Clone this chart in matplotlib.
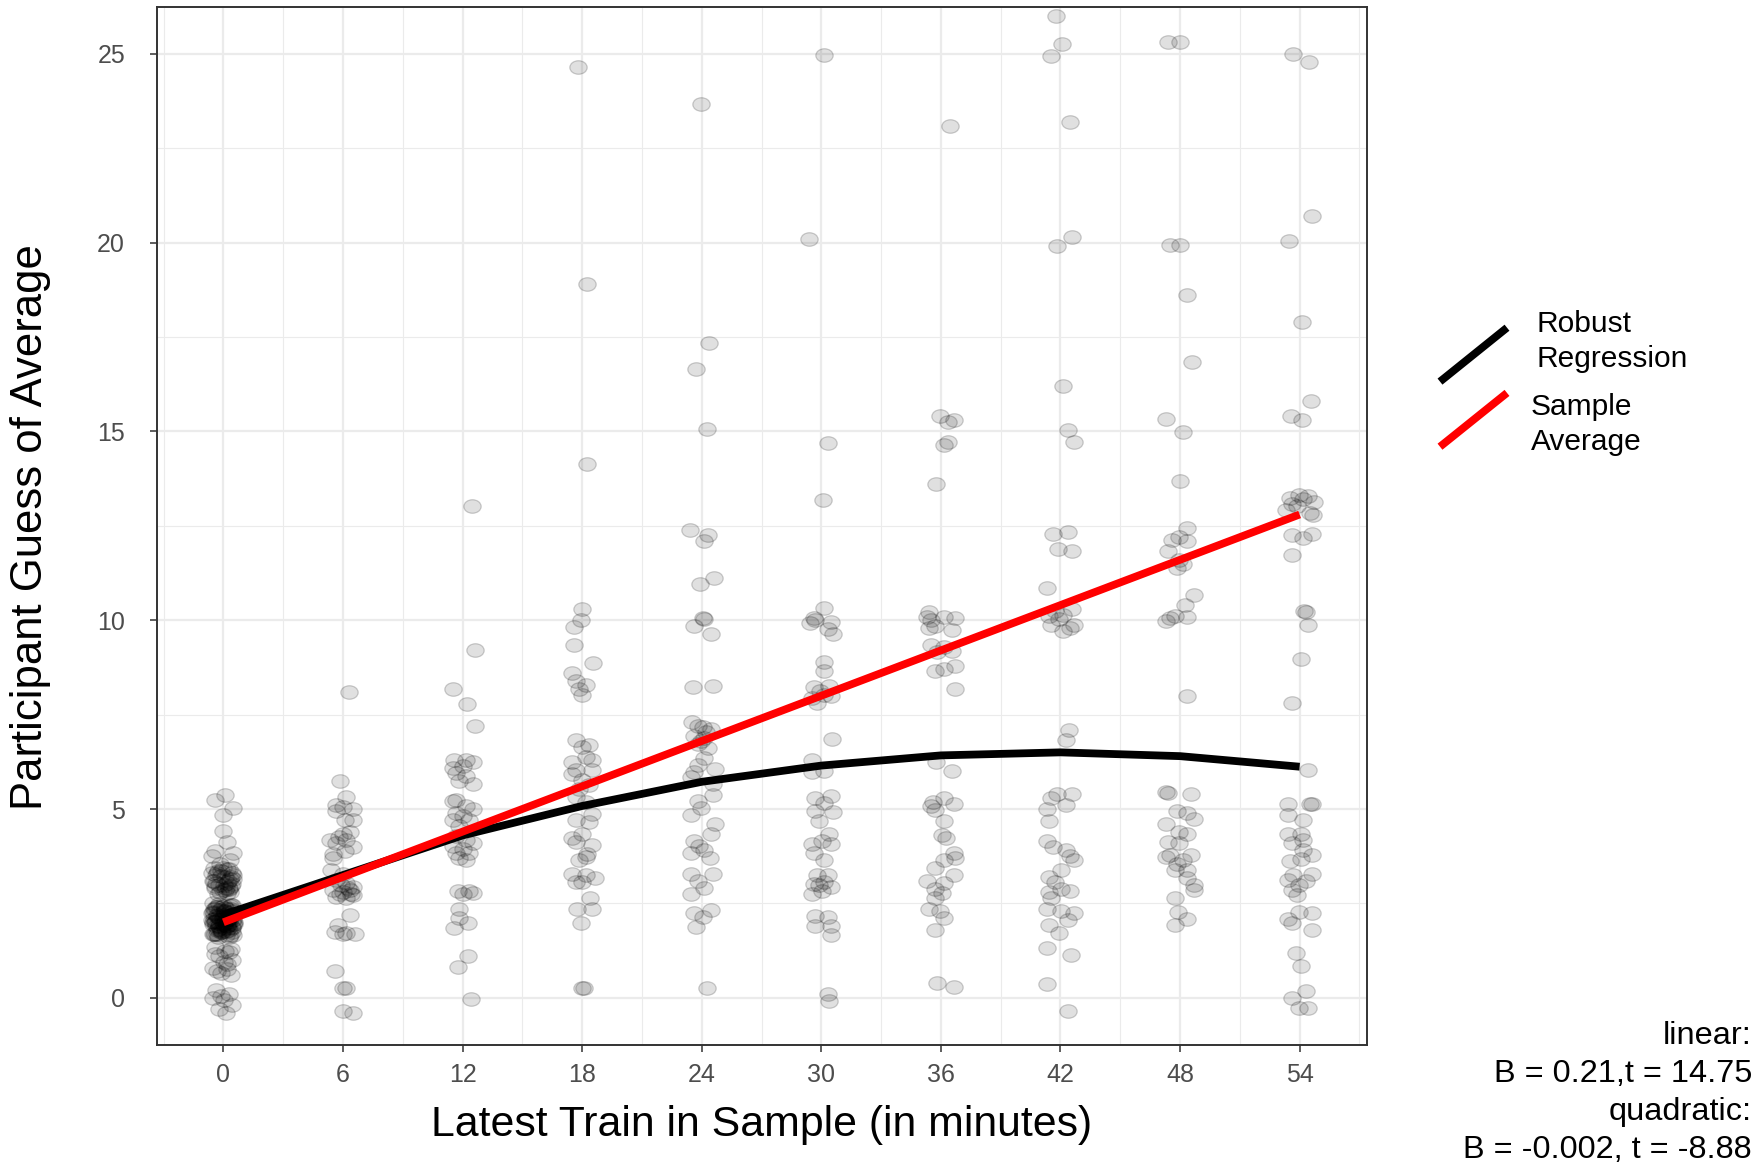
import numpy as np
import matplotlib
matplotlib.use("Agg")
import matplotlib.pyplot as plt
from matplotlib.path import Path
from matplotlib.transforms import Affine2D
from matplotlib.lines import Line2D

plt.rcParams['font.family'] = ['Liberation Sans', 'DejaVu Sans']
FW = 'normal'

# ---------------- data ----------------
categories = [0, 6, 12, 18, 24, 30, 36, 42, 48, 54]
tick_labels = ["0", "6", "12", "18", "24", "30", "36", "42", "48", "54"]

guess_00 = [5.38, 5.23, 5.03, 4.85, 4.41, 4.12, 3.88, 3.84, 3.75, 3.66, 3.55,
            3.45, 3.40, 3.35, 3.30, 3.25, 3.20, 3.15, 3.10, 3.05, 3.00, 2.95, 2.90, 2.85, 2.80, 2.75, 3.30, 3.10, 2.90,
            2.50, 2.45, 2.40, 2.35, 2.30, 2.25, 2.20, 2.15, 2.10, 2.05, 2.00, 1.95, 1.90, 1.85, 1.80, 1.75, 1.70, 1.65, 1.60,
            2.00, 2.00, 2.00, 2.10, 2.20, 1.90, 1.80, 2.30, 2.40, 2.00, 1.70, 2.10, 1.90, 2.05, 1.95,
            1.35, 1.20, 1.10, 1.00, 0.95, 0.80, 0.75, 0.70, 0.60, 1.25,
            0.20, 0.10, 0.00, -0.05, -0.20, -0.30, -0.40, 0.05,
            2.45, 2.35, 2.25, 2.15, 2.05, 1.95, 1.85, 1.75, 1.65, 2.40, 2.30, 2.20, 2.10, 2.00, 1.90, 1.80, 1.70,
            2.15, 2.25, 1.95, 2.05, 1.85, 2.35, 1.75,
            3.40, 3.30, 3.20, 3.10, 3.00, 2.90, 2.80, 3.25, 3.05, 2.85,
            1.30, 1.15, 0.90, 0.65,
            2.48, 2.42, 2.36, 2.28, 2.22, 2.16, 2.08, 2.02, 1.96, 1.88, 1.82, 1.76, 1.68, 1.62,
            2.44, 2.32, 2.18, 2.04, 1.92, 1.78, 1.66, 2.26, 2.12, 1.98, 1.84, 2.38, 2.00, 2.10, 1.94, 2.20,
            3.35, 3.15, 2.95, 2.78, 3.45, 3.22, 3.02, 2.88]
jitter_00 = [0.08, -0.42, 0.50, -0.03, -0.03, 0.17, -0.42, 0.50, -0.59, 0.33, -0.17,
             -0.45, 0.30, -0.10, 0.45, -0.35, 0.10, 0.50, -0.50, 0.20, -0.20, 0.40, -0.40, 0.00, 0.35, -0.25, -0.55, 0.25, 0.15,
             -0.50, 0.45, -0.30, 0.20, 0.50, -0.45, 0.05, -0.20, 0.35, -0.55, 0.10, 0.50, -0.35, 0.25, -0.10, 0.45, -0.50, 0.15, -0.25,
             0.30, -0.40, 0.00, -0.15, 0.40, 0.20, -0.30, 0.10, -0.05, 0.55, -0.45, 0.25, -0.20, 0.45, 0.05,
             -0.40, 0.30, -0.20, 0.45, 0.05, -0.50, 0.20, -0.30, 0.40, 0.10,
             -0.35, 0.30, -0.50, 0.05, 0.45, -0.20, 0.15, -0.10,
             0.40, -0.40, 0.25, -0.25, 0.50, -0.50, 0.10, -0.10, 0.35, -0.35, 0.05, 0.45, -0.45, 0.20, -0.20, 0.30, -0.30,
             0.00, -0.55, 0.55, 0.15, -0.15, 0.40, -0.05,
             0.20, -0.30, 0.40, -0.45, 0.05, 0.30, -0.15, 0.50, -0.35, 0.10,
             0.40, -0.40, 0.20, -0.10,
             -0.20, 0.35, -0.45, 0.10, 0.50, -0.30, 0.25, -0.50, 0.00, 0.45, -0.25, 0.15, -0.40, 0.30,
             0.05, -0.15, 0.40, -0.35, 0.20, -0.05, 0.50, -0.50, 0.30, -0.20, 0.45, 0.10, -0.40, 0.00, 0.25, -0.30,
             -0.25, 0.35, -0.40, 0.20, 0.00, -0.10, 0.45, 0.30]

guess_06 = [8.09, 5.74, 5.32, 5.10, 5.06, 5.00, 4.95, 4.70, 4.72, 4.17, 4.35, 4.40, 4.09, 4.00, 3.82, 3.69, 4.17,
            3.38, 3.29, 3.12, 3.03, 2.94, 2.85, 2.81, 2.72, 2.67, 2.63, 2.76, 2.85, 2.19, 1.92, 1.75, 1.70, 1.70, 1.72,
            0.71, 0.25, 0.25, -0.34, -0.40, 3.90, 4.25, 2.90, 3.00, 2.75]
jitter_06 = [0.30, -0.13, 0.17, -0.33, 0.00, 0.50, -0.33, 0.08, 0.50, -0.67, 0.00, 0.33, -0.33, 0.50, -0.50, -0.50, 0.17,
             -0.59, 0.00, -0.33, 0.17, 0.50, -0.50, 0.00, 0.50, -0.33, 0.17, -0.17, 0.33, 0.33, -0.25, -0.42, 0.00, 0.59, 0.17,
             -0.42, 0.00, 0.17, 0.00, 0.50, 0.10, -0.20, 0.25, -0.10, 0.40]

guess_12 = [13.02, 9.20, 8.19, 7.78, 7.21, 6.31, 6.31, 6.24, 6.09, 6.13, 5.96, 5.87, 5.65, 5.74,
            5.25, 5.21, 5.08, 4.99, 4.90, 4.81, 4.72, 4.72, 4.55, 4.28, 4.19, 4.10, 4.02, 3.93, 3.84, 3.84, 3.71, 3.66,
            2.82, 2.82, 2.74, 2.78, 2.34, 2.12, 1.85, 1.97, 1.10, 0.81, -0.03]
jitter_12 = [0.45, 0.62, -0.47, 0.20, 0.62, -0.42, 0.17, 0.50, -0.50, 0.00, -0.33, 0.17, 0.50, -0.17,
             -0.33, -0.50, 0.17, 0.50, -0.33, 0.00, -0.50, 0.33, -0.17, -0.33, 0.17, 0.50, -0.50, 0.00, -0.33, 0.33, -0.17, 0.17,
             -0.25, 0.33, 0.00, 0.50, -0.17, -0.17, -0.42, 0.25, 0.25, -0.25, 0.42]

guess_18 = [24.64, 18.90, 14.15, 10.31, 10.00, 9.82, 9.34, 8.87, 8.60, 8.39, 8.28, 8.19, 8.01,
            6.84, 6.69, 6.65, 6.25, 6.29, 6.38, 6.03, 6.03, 5.94, 5.76, 5.63, 5.54,
            5.32, 5.19, 4.88, 4.70, 4.66, 4.35, 4.22, 4.13, 4.04, 3.73, 3.65, 3.82,
            3.29, 3.25, 3.16, 3.07, 3.07, 2.63, 2.34, 2.34, 1.99, 0.25, 0.25]
jitter_18 = [-0.20, 0.25, 0.25, 0.00, -0.08, -0.42, -0.42, 0.53, -0.50, -0.33, 0.17, -0.17, 0.00,
             -0.33, 0.33, 0.00, -0.50, 0.50, 0.17, -0.33, 0.50, -0.50, 0.00, 0.33, -0.17,
             -0.33, 0.17, 0.50, -0.33, 0.33, 0.00, -0.50, -0.33, 0.50, 0.17, -0.17, 0.25,
             -0.50, 0.17, 0.67, -0.33, 0.00, 0.42, -0.25, 0.50, -0.08, 0.00, 0.08]

guess_24 = [23.66, 17.33, 16.65, 15.07, 12.39, 12.25, 12.09, 11.13, 10.95, 10.06, 10.02, 9.85, 9.63, 8.24, 8.26,
            7.30, 7.21, 7.12, 6.93, 6.89, 6.71, 6.62, 6.80, 7.03, 7.16, 6.34, 6.07, 6.16, 5.98, 5.84,
            5.66, 5.38, 5.20, 4.84, 5.02, 4.61, 4.33, 4.15, 3.83, 4.01, 3.92, 3.70, 3.28, 3.28, 3.10, 2.92, 2.74,
            2.24, 2.33, 2.14, 1.87, 0.27]
jitter_24 = [-0.05, 0.35, -0.30, 0.25, -0.59, 0.31, 0.14, 0.62, -0.07, 0.05, 0.14, -0.38, 0.45, -0.42, 0.57,
             -0.47, -0.21, 0.48, -0.38, 0.14, -0.21, 0.31, -0.03, 0.22, 0.05, 0.14, 0.66, -0.21, -0.38, -0.55,
             0.57, 0.57, -0.21, -0.55, -0.03, 0.66, 0.48, -0.38, -0.55, -0.12, 0.14, 0.40, 0.57, -0.55, -0.21, 0.14, -0.55,
             -0.38, 0.48, 0.05, -0.29, 0.26]

guess_30 = [24.98, 20.10, 14.70, 13.19, 10.32, 10.07, 9.92, 10.00, 9.94, 9.78, 9.64, 8.88, 8.65,
            8.24, 8.27, 8.13, 7.99, 7.94, 7.80, 8.03, 6.85, 6.29, 5.97, 6.00,
            5.29, 5.34, 5.15, 4.93, 4.96, 4.68, 4.35, 4.06, 4.16, 4.06, 3.83, 3.64,
            3.26, 3.26, 3.02, 3.07, 2.93, 2.74, 2.84, 2.98, 2.17, 2.15, 1.89, 1.89, 1.65, 0.09, -0.09]
jitter_30 = [0.12, -0.60, 0.35, 0.11, 0.14, -0.39, -0.57, -0.30, 0.50, 0.32, 0.59, 0.14, 0.14,
             -0.39, 0.41, -0.04, 0.50, -0.48, -0.22, 0.14, 0.54, -0.48, -0.48, 0.14,
             -0.30, 0.50, 0.14, 0.59, -0.30, -0.13, 0.41, -0.48, 0.05, 0.50, -0.39, 0.14,
             -0.22, 0.32, -0.39, 0.14, 0.50, -0.48, 0.05, -0.13, -0.30, 0.32, 0.50, -0.30, 0.50, 0.32, 0.41]

guess_36 = [23.10, 15.41, 15.31, 15.24, 14.73, 14.64, 13.61,
            10.23, 10.09, 10.01, 10.09, 10.07, 9.85, 9.74, 9.79, 9.35, 9.30, 9.19, 9.17, 8.80, 8.66, 8.70, 8.18,
            6.25, 6.01, 5.19, 5.08, 5.30, 5.13, 4.97, 4.69, 4.31, 4.23, 3.84, 3.71, 3.65, 3.43, 3.25, 3.10,
            2.88, 2.77, 3.05, 2.63, 2.34, 2.30, 2.12, 1.79, 0.39, 0.29]
jitter_36 = [0.45, -0.06, 0.65, 0.35, 0.35, 0.15, -0.23,
             -0.58, -0.69, -0.48, 0.15, 0.70, -0.27, 0.56, -0.58, -0.48, 0.15, 0.56, -0.17, 0.70, -0.27, 0.15, 0.70,
             -0.23, 0.56, -0.38, -0.48, 0.15, 0.67, -0.27, 0.15, 0.04, 0.25, 0.67, 0.70, 0.15, -0.27, 0.67, -0.69,
             -0.27, 0.04, 0.15, -0.27, -0.58, -0.06, 0.15, -0.27, -0.17, 0.67]

guess_42 = [26.00, 25.25, 24.95, 23.20, 20.15, 19.90, 16.20, 15.03, 14.73, 12.29, 12.34, 11.89, 11.83, 10.84,
            10.25, 10.31, 10.14, 10.10, 10.02, 9.88, 9.88, 9.72, 9.80, 7.08, 6.82,
            5.41, 5.39, 5.28, 5.11, 4.99, 4.68, 4.15, 4.00, 3.92, 3.75, 3.66, 3.39,
            3.21, 3.07, 2.82, 2.79, 2.87, 2.64, 2.34, 2.31, 2.25, 1.94, 2.06, 1.72, 1.32, 1.13, 0.36, -0.35]
jitter_42 = [-0.20, 0.10, -0.45, 0.50, 0.60, -0.15, 0.11, 0.36, 0.69, -0.39, 0.36, -0.11, 0.58, -0.67,
             -0.28, 0.58, 0.15, -0.60, -0.06, 0.70, -0.49, 0.15, 0.47, 0.41, 0.26,
             -0.17, 0.58, -0.49, 0.26, -0.70, -0.60, -0.70, -0.39, 0.26, 0.47, 0.70, 0.04,
             -0.60, -0.28, 0.47, -0.60, 0.04, -0.49, -0.70, 0.04, 0.69, -0.60, 0.36, -0.06, -0.67, 0.54, -0.70, 0.36]

guess_48 = [25.30, 25.30, 19.93, 19.93, 18.60, 16.85, 15.32, 14.98, 13.69,
            12.44, 12.21, 12.13, 12.10, 11.82, 11.60, 11.37, 11.49, 10.67, 10.39, 10.12, 9.98, 10.09, 10.05, 8.00,
            5.40, 5.45, 5.42, 4.89, 4.95, 4.73, 4.61, 4.39, 4.34, 4.13, 4.11,
            3.78, 3.72, 3.66, 3.78, 3.55, 3.39, 3.39, 3.16, 2.99, 2.64, 2.85, 2.27, 2.10, 1.93]
jitter_48 = [-0.60, 0.00, -0.50, 0.00, 0.35, 0.60, -0.70, 0.15, -0.02,
             0.36, -0.06, -0.38, 0.36, -0.59, -0.06, -0.17, 0.15, 0.68, 0.25, -0.27, -0.70, 0.36, -0.49, 0.36,
             0.57, -0.70, -0.59, 0.36, -0.17, 0.68, -0.70, -0.06, 0.36, -0.59, -0.06,
             -0.49, -0.70, 0.15, 0.57, -0.17, 0.36, -0.27, 0.36, 0.68, -0.27, 0.70, -0.11, 0.36, -0.27]

guess_54 = [25.00, 24.78, 20.70, 20.05, 17.90, 15.80, 15.40, 15.30,
            13.24, 13.31, 13.29, 13.12, 13.07, 13.03, 12.91, 12.83, 12.78, 13.20, 12.25, 12.18, 12.27, 11.72,
            10.25, 10.21, 9.87, 8.96, 7.82, 6.04, 5.13, 5.13, 5.14, 4.84, 4.71,
            4.35, 4.35, 4.18, 4.11, 3.78, 3.92, 3.63, 3.68, 3.25, 3.10, 3.12, 3.27, 3.00, 2.86, 2.72,
            2.28, 2.25, 2.09, 1.99, 1.80, 1.19, 0.84, 0.19, 0.00, -0.27, -0.27]
jitter_54 = [-0.33, 0.45, 0.60, -0.55, 0.10, 0.55, -0.45, 0.10,
             -0.49, -0.04, 0.42, 0.70, -0.40, -0.13, -0.68, 0.51, 0.69, 0.15, -0.40, 0.15, 0.60, -0.36,
             0.24, 0.33, 0.42, 0.05, -0.40, 0.42, -0.58, 0.51, 0.60, -0.58, 0.15,
             -0.58, 0.05, 0.15, -0.40, 0.60, 0.15, -0.49, 0.05, -0.31, 0.33, -0.58, 0.60, -0.04, -0.40, -0.13,
             -0.04, 0.60, -0.58, -0.40, 0.60, -0.18, 0.05, 0.33, -0.40, -0.04, 0.42]

robust_fit = [2.20, 3.25, 4.30, 5.08, 5.72, 6.15, 6.42, 6.50, 6.40, 6.12]
sample_avg = [2.00, 3.20, 4.40, 5.60, 6.80, 8.00, 9.20, 10.40, 11.60, 12.80]

legend_labels = ["Robust\nRegression", "Sample\nAverage"]
stats_lines = ["linear:", "B = 0.21,t = 14.75", "quadratic:", "B = -0.002, t = -8.88"]

guesses = [guess_00, guess_06, guess_12, guess_18, guess_24, guess_30, guess_36, guess_42, guess_48, guess_54]
jitters = [jitter_00, jitter_06, jitter_12, jitter_18, jitter_24, jitter_30, jitter_36, jitter_42, jitter_48, jitter_54]

# ---------------- figure ----------------
W, H = 1760, 1167
fig = plt.figure(figsize=(W / 100, H / 100), dpi=100)
L, R, T, B = 157, 1367, 7, 1045
ax = fig.add_axes([L / W, 1 - B / H, (R - L) / W, (B - T) / H])
ax.set_xlim(-3.33, 57.38)
ax.set_ylim(-1.25, 26.24)

ax.set_xticks(categories)
ax.set_xticklabels(tick_labels)
ax.set_xticks(np.arange(-3, 58, 6), minor=True)
ax.set_yticks([0, 5, 10, 15, 20, 25])
ax.set_yticklabels(["0", "5", "10", "15", "20", "25"])
ax.set_yticks([2.5, 7.5, 12.5, 17.5, 22.5], minor=True)

ax.grid(which='major', color='#EBEBEB', lw=1.6, zorder=0)
ax.grid(which='minor', color='#EBEBEB', lw=0.8, zorder=0)
ax.set_axisbelow(True)
for s in ax.spines.values():
    s.set_color('#333333')
    s.set_linewidth(1.4)

ax.tick_params(which='major', length=5, width=1.1, color='#333333', labelcolor='#4D4D4D', labelsize=18)
ax.tick_params(axis='y', which='major', pad=18)
ax.tick_params(axis='x', which='major', pad=8)
ax.tick_params(which='minor', length=0)
for lab in ax.get_xticklabels() + ax.get_yticklabels():
    lab.set_fontweight(FW)

# points
ell = Path.unit_circle().transformed(Affine2D().scale(1.0, 0.78))
xs, ys = [], []
for c, g, j in zip(categories, guesses, jitters):
    for yy, dx in zip(g, j):
        xs.append(c + dx)
        ys.append(yy)
ax.scatter(xs, ys, marker=ell, s=12.5 ** 2, facecolor=(0, 0, 0, 0.12),
           edgecolor=(0, 0, 0, 0.19), linewidths=0.9, zorder=2)

ax.plot(categories, robust_fit, color='black', lw=5.6, solid_capstyle='butt', zorder=3)
ax.plot(categories, sample_avg, color='#FF0000', lw=5.6, solid_capstyle='butt', zorder=4)

# axis titles
fig.text(762 / W, 1 - 1125 / H, "Latest Train in Sample (in minutes)", ha='center', va='center',
         fontsize=30.8, fontweight=FW)
fig.text(31 / W, 1 - 527 / H, "Participant Guess of Average", ha='center', va='center',
         rotation=90, fontsize=31.4, fontweight=FW)

# legend
def fx(px):
    return px / W

def fy(py):
    return 1 - py / H

fig.add_artist(Line2D([fx(1440), fx(1507)], [fy(381.6), fy(327.7)], color='black', lw=5.6,
                      solid_capstyle='butt', transform=fig.transFigure))
fig.add_artist(Line2D([fx(1440), fx(1507)], [fy(446.7), fy(392.9)], color='#FF0000', lw=5.6,
                      solid_capstyle='butt', transform=fig.transFigure))
rl = legend_labels[0].split("\n")
sl = legend_labels[1].split("\n")
fig.text(fx(1536), fy(324), rl[0], ha='left', va='center', fontsize=21.5, fontweight=FW)
fig.text(fx(1536), fy(359), rl[1], ha='left', va='center', fontsize=21.5, fontweight=FW)
fig.text(fx(1531), fy(407), sl[0], ha='left', va='center', fontsize=21.5, fontweight=FW)
fig.text(fx(1531), fy(442), sl[1], ha='left', va='center', fontsize=21.5, fontweight=FW)

# stats annotation
for line, py in zip(stats_lines, [1036, 1074, 1112, 1150]):
    fig.text(fx(1752), fy(py), line, ha='right', va='center', fontsize=23.4, fontweight=FW)

fig.savefig("out.png", dpi=100)
